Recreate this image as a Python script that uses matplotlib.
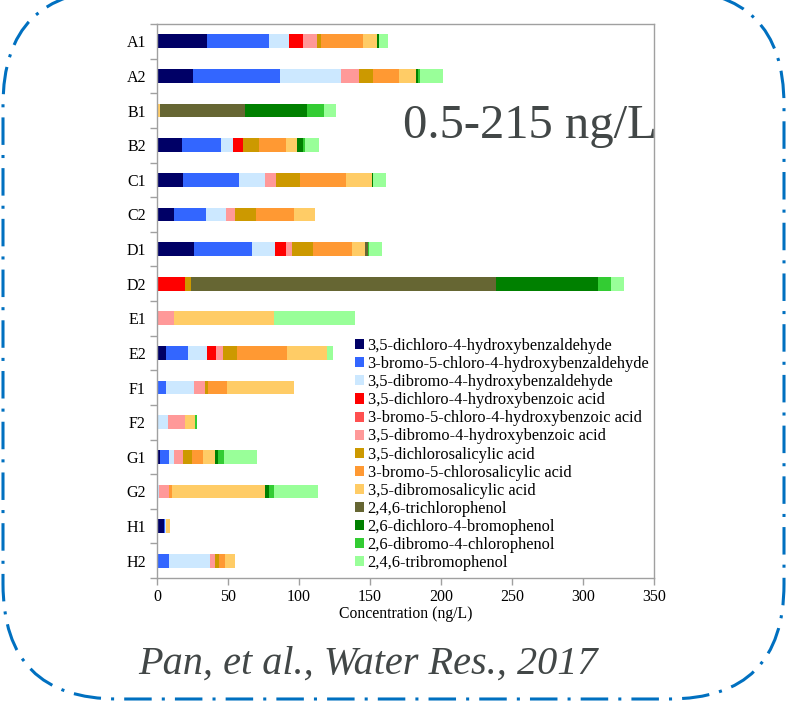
import matplotlib
matplotlib.use("Agg")
import matplotlib.pyplot as plt
from matplotlib.patches import FancyBboxPatch
import numpy as np

plt.rcParams['font.family'] = ['Liberation Serif', 'DejaVu Serif']

sites = ["A1", "A2", "B1", "B2", "C1", "C2", "D1", "D2",
         "E1", "E2", "F1", "F2", "G1", "G2", "H1", "H2"]

compounds = [
    "3,5-dichloro-4-hydroxybenzaldehyde",
    "3-bromo-5-chloro-4-hydroxybenzaldehyde",
    "3,5-dibromo-4-hydroxybenzaldehyde",
    "3,5-dichloro-4-hydroxybenzoic acid",
    "3-bromo-5-chloro-4-hydroxybenzoic acid",
    "3,5-dibromo-4-hydroxybenzoic acid",
    "3,5-dichlorosalicylic acid",
    "3-bromo-5-chlorosalicylic acid",
    "3,5-dibromosalicylic acid",
    "2,4,6-trichlorophenol",
    "2,6-dichloro-4-bromophenol",
    "2,6-dibromo-4-chlorophenol",
    "2,4,6-tribromophenol",
]

colors = ["#000066", "#3366FF", "#CCE8FF", "#FF0000", "#FF5050", "#FF9999",
          "#CC9900", "#FF9933", "#FFCC66", "#666633", "#008000", "#33CC33",
          "#99FF99"]

# concentrations (ng/L), one list per compound, ordered as in `sites`
dcHBAld = [34.9, 25.4, 0, 17.3, 18.3, 11.7, 26.3, 0, 0, 6.3, 0, 0, 2.3, 0, 4.6, 0]
bcHBAld = [44.2, 61.3, 0, 27.5, 39.4, 23.0, 40.4, 0, 0, 15.7, 6.1, 0, 6.3, 0, 0.7, 8.7]
dbHBAld = [14.1, 43.2, 0, 8.5, 18.5, 13.6, 16.5, 0, 0.7, 13.2, 20.0, 7.7, 3.7, 1.4, 1.0, 28.9]
dcHBAc = [9.6, 0, 0, 7.0, 0, 0, 7.3, 19.9, 0, 6.3, 0, 0, 0, 0, 0, 0]
bcHBAc = [0, 0, 0, 0, 0, 0, 0, 0, 0, 0, 0, 0, 0, 0, 0, 0]
dbHBAc = [9.9, 12.7, 0, 0, 7.3, 6.6, 4.9, 0, 11.0, 4.9, 8.0, 12.0, 5.9, 7.3, 0, 3.5]
dcSA = [2.8, 9.2, 0, 11.3, 17.4, 15.0, 14.3, 3.9, 0, 9.9, 2.1, 0, 6.3, 0, 0, 2.3]
bcSA = [29.6, 18.3, 0.8, 19.5, 32.2, 26.8, 27.5, 0, 0.5, 35.4, 12.9, 0, 8.0, 1.6, 0, 4.7]
dbSA = [10.1, 12.5, 1.2, 7.7, 18.3, 14.3, 9.2, 0, 70.2, 27.7, 47.7, 7.3, 8.0, 66.0, 3.0, 6.5]
TCP = [0, 0, 60.1, 0, 0, 0, 1.9, 215.0, 0, 0, 0, 0, 0, 0, 0, 0]
DCBP = [1.0, 1.0, 43.2, 3.8, 0.9, 0, 0, 72.0, 0, 0, 0, 0, 2.8, 2.8, 0, 0]
DBCP = [0, 1.8, 12.5, 1.7, 0, 0, 0.9, 8.9, 0, 0, 0, 1.4, 4.0, 3.3, 0, 0]
TBP = [6.6, 15.9, 8.5, 10.1, 8.7, 0, 8.9, 9.4, 57.3, 4.2, 0, 0, 23.2, 31.2, 0, 0]

series = [dcHBAld, bcHBAld, dbHBAld, dcHBAc, bcHBAc, dbHBAc,
          dcSA, bcSA, dbSA, TCP, DCBP, DBCP, TBP]

W, H = 795, 721
fig = plt.figure(figsize=(W / 100, H / 100), dpi=100)
fig.patch.set_facecolor("white")

ax = fig.add_axes([157 / W, 1 - 578 / H, (654 - 157) / W, (578 - 24) / H])

ypos = np.arange(len(sites))
left = np.zeros(len(sites))
for name, vals, col in zip(compounds, series, colors):
    v = np.array(vals, dtype=float)
    ax.barh(ypos, v, left=left, height=0.4, color=col, label=name,
            edgecolor="none")
    left += v

ax.set_xlim(0, 350)
ax.set_ylim(len(sites) - 0.5, -0.5)
ax.set_xticks(np.arange(0, 351, 50))
ax.set_yticks(ypos)
ax.set_yticklabels(sites)
ax.set_yticks(np.arange(-0.5, len(sites), 1.0), minor=True)
ax.tick_params(axis="y", which="major", length=0, pad=8, labelsize=11.5)
ax.tick_params(axis="y", which="minor", length=5, color="#A0A0A0", width=1,
               direction="out")
ax.tick_params(axis="x", which="major", length=5, color="#A0A0A0", width=1,
               direction="out", labelsize=11.5, pad=3)
for s in ax.spines.values():
    s.set_color("#A0A0A0")
    s.set_linewidth(1)
ax.set_xlabel("Concentration (ng/L)", fontsize=11.3, labelpad=1)

leg = ax.legend(loc="upper left", bbox_to_anchor=(355 / W, 1 - 338 / H),
                bbox_transform=fig.transFigure, frameon=False, fontsize=11.8,
                handlelength=0.57, handleheight=0.57, handletextpad=0.2,
                labelspacing=0.128, borderpad=0, borderaxespad=0)

# decorative overlay in pixel coordinates
ov = fig.add_axes([0, 0, 1, 1], zorder=5)
ov.set_xlim(0, W)
ov.set_ylim(H, 0)
ov.axis("off")
ov.patch.set_alpha(0)

frame = FancyBboxPatch((3, -10), 781, 709,
                       boxstyle="round,pad=0,rounding_size=115",
                       facecolor="none", edgecolor="#0070C0", linewidth=2.2,
                       linestyle=(0, (9, 3.3, 1, 3.3)), capstyle="butt")
ov.add_patch(frame)

ov.text(530, 126, "0.5-215 ng/L", fontsize=35, color="#424747",
        ha="center", va="center")
ov.text(368, 664, "Pan, et al., Water Res., 2017", fontsize=29,
        color="#424747", style="italic", ha="center", va="center")

fig.savefig("out.png", dpi=100)
